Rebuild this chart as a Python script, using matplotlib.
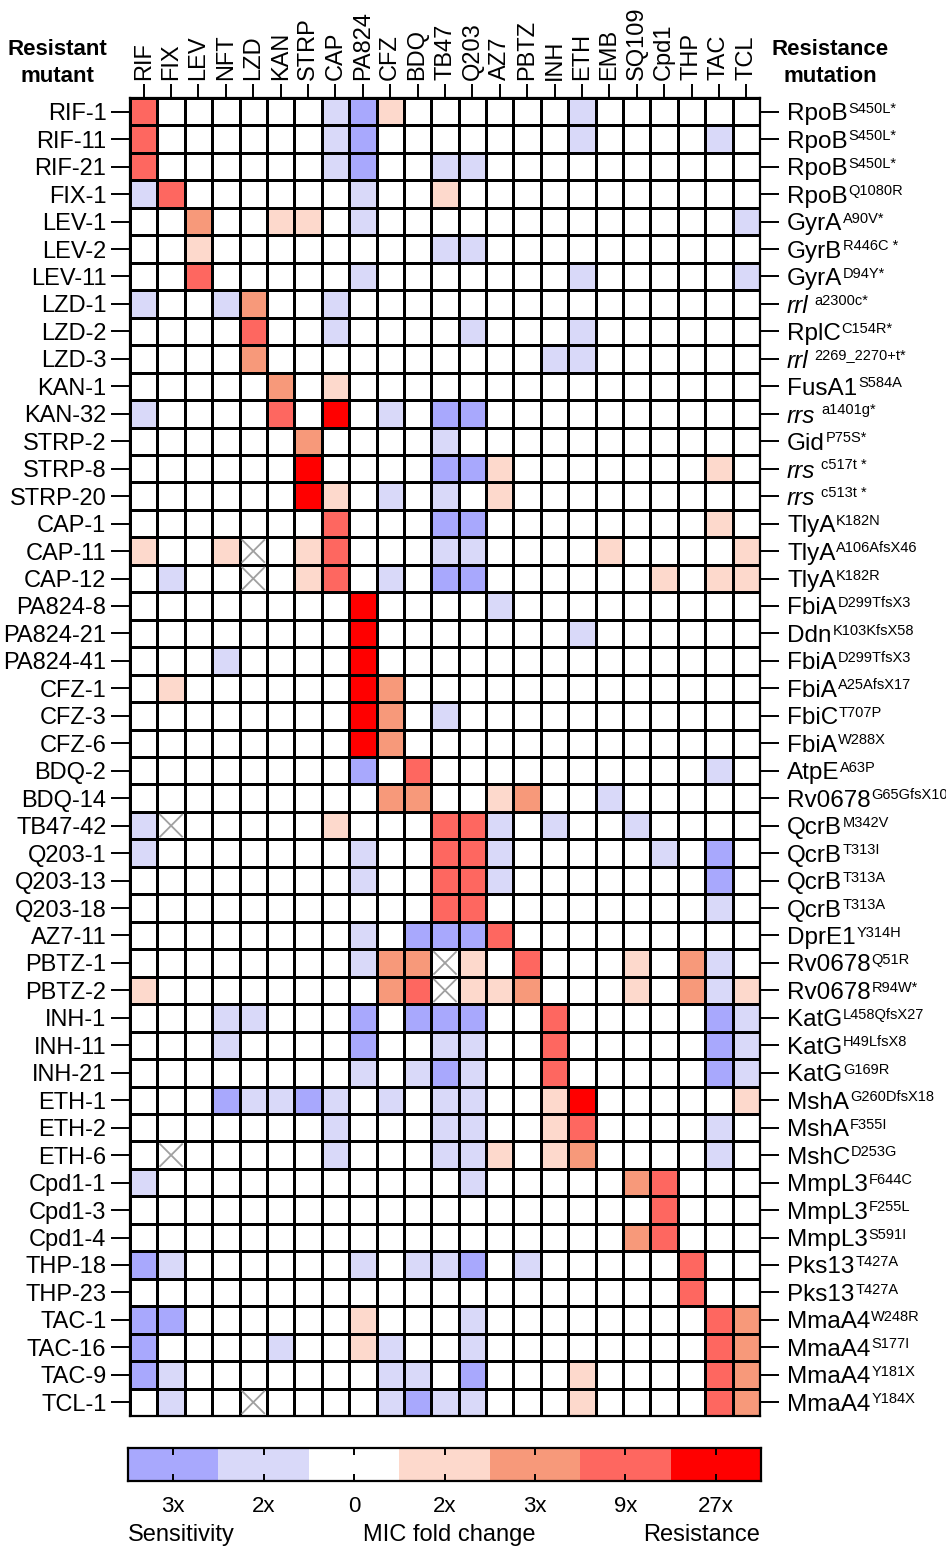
import numpy as np
import matplotlib
matplotlib.use("Agg")
import matplotlib.pyplot as plt
from matplotlib.colors import ListedColormap, BoundaryNorm

plt.rcParams["font.family"] = ["Liberation Sans", "DejaVu Sans"]

X = np.nan  # not tested

drugs = ["RIF", "FIX", "LEV", "NFT", "LZD", "KAN", "STRP", "CAP", "PA824", "CFZ", "BDQ", "TB47",
         "Q203", "AZ7", "PBTZ", "INH", "ETH", "EMB", "SQ109", "Cpd1", "THP", "TAC", "TCL"]

mutants = ["RIF-1", "RIF-11", "RIF-21", "FIX-1", "LEV-1", "LEV-2", "LEV-11", "LZD-1", "LZD-2",
           "LZD-3", "KAN-1", "KAN-32", "STRP-2", "STRP-8", "STRP-20", "CAP-1", "CAP-11", "CAP-12",
           "PA824-8", "PA824-21", "PA824-41", "CFZ-1", "CFZ-3", "CFZ-6", "BDQ-2", "BDQ-14",
           "TB47-42", "Q203-1", "Q203-13", "Q203-18", "AZ7-11", "PBTZ-1", "PBTZ-2", "INH-1",
           "INH-11", "INH-21", "ETH-1", "ETH-2", "ETH-6", "Cpd1-1", "Cpd1-3", "Cpd1-4", "THP-18",
           "THP-23", "TAC-1", "TAC-16", "TAC-9", "TCL-1"]

genes = ["RpoB", "RpoB", "RpoB", "RpoB", "GyrA", "GyrB", "GyrA", "rrl", "RplC", "rrl", "FusA1",
         "rrs", "Gid", "rrs", "rrs", "TlyA", "TlyA", "TlyA", "FbiA", "Ddn", "FbiA", "FbiA", "FbiC",
         "FbiA", "AtpE", "Rv0678", "QcrB", "QcrB", "QcrB", "QcrB", "DprE1", "Rv0678", "Rv0678",
         "KatG", "KatG", "KatG", "MshA", "MshA", "MshC", "MmpL3", "MmpL3", "MmpL3", "Pks13",
         "Pks13", "MmaA4", "MmaA4", "MmaA4", "MmaA4"]

changes = ["S450L*", "S450L*", "S450L*", "Q1080R", "A90V*", "R446C *", "D94Y*", "a2300c*",
           "C154R*", "2269_2270+t*", "S584A", "a1401g*", "P75S*", "c517t *", "c513t *",
           "K182N", "A106AfsX46", "K182R", "D299TfsX3", "K103KfsX58", "D299TfsX3", "A25AfsX17",
           "T707P", "W288X", "A63P", "G65GfsX10", "M342V", "T313I", "T313A", "T313A", "Y314H",
           "Q51R", "R94W*", "L458QfsX27", "H49LfsX8", "G169R", "G260DfsX18", "F355I", "D253G",
           "F644C", "F255L", "S591I", "T427A", "T427A", "W248R", "S177I", "Y181X", "Y184X"]

italic_genes = {"rrl", "rrs"}

# MIC fold change level: -2 = 3x sens, -1 = 2x sens, 0, 1 = 2x, 2 = 3x, 3 = 9x, 4 = 27x res
fold_change = np.array([
    [ 3, 0, 0, 0, 0, 0, 0,-1,-2, 1, 0, 0, 0, 0, 0, 0,-1, 0, 0, 0, 0, 0, 0],
    [ 3, 0, 0, 0, 0, 0, 0,-1,-2, 0, 0, 0, 0, 0, 0, 0,-1, 0, 0, 0, 0,-1, 0],
    [ 3, 0, 0, 0, 0, 0, 0,-1,-2, 0, 0,-1,-1, 0, 0, 0, 0, 0, 0, 0, 0, 0, 0],
    [-1, 3, 0, 0, 0, 0, 0, 0,-1, 0, 0, 1, 0, 0, 0, 0, 0, 0, 0, 0, 0, 0, 0],
    [ 0, 0, 2, 0, 0, 1, 1, 0,-1, 0, 0, 0, 0, 0, 0, 0, 0, 0, 0, 0, 0, 0,-1],
    [ 0, 0, 1, 0, 0, 0, 0, 0, 0, 0, 0,-1,-1, 0, 0, 0, 0, 0, 0, 0, 0, 0, 0],
    [ 0, 0, 3, 0, 0, 0, 0, 0,-1, 0, 0, 0, 0, 0, 0, 0,-1, 0, 0, 0, 0, 0,-1],
    [-1, 0, 0,-1, 2, 0, 0,-1, 0, 0, 0, 0, 0, 0, 0, 0, 0, 0, 0, 0, 0, 0, 0],
    [ 0, 0, 0, 0, 3, 0, 0,-1, 0, 0, 0, 0,-1, 0, 0, 0,-1, 0, 0, 0, 0, 0, 0],
    [ 0, 0, 0, 0, 2, 0, 0, 0, 0, 0, 0, 0, 0, 0, 0,-1,-1, 0, 0, 0, 0, 0, 0],
    [ 0, 0, 0, 0, 0, 2, 0, 1, 0, 0, 0, 0, 0, 0, 0, 0, 0, 0, 0, 0, 0, 0, 0],
    [-1, 0, 0, 0, 0, 3, 0, 4, 0,-1, 0,-2,-2, 0, 0, 0, 0, 0, 0, 0, 0, 0, 0],
    [ 0, 0, 0, 0, 0, 0, 2, 0, 0, 0, 0,-1, 0, 0, 0, 0, 0, 0, 0, 0, 0, 0, 0],
    [ 0, 0, 0, 0, 0, 0, 4, 0, 0, 0, 0,-2,-2, 1, 0, 0, 0, 0, 0, 0, 0, 1, 0],
    [ 0, 0, 0, 0, 0, 0, 4, 1, 0,-1, 0,-1, 0, 1, 0, 0, 0, 0, 0, 0, 0, 0, 0],
    [ 0, 0, 0, 0, 0, 0, 0, 3, 0, 0, 0,-2,-2, 0, 0, 0, 0, 0, 0, 0, 0, 1, 0],
    [ 1, 0, 0, 1, X, 0, 1, 3, 0, 0, 0,-1,-1, 0, 0, 0, 0, 1, 0, 0, 0, 0, 1],
    [ 0,-1, 0, 0, X, 0, 1, 3, 0,-1, 0,-2,-2, 0, 0, 0, 0, 0, 0, 1, 0, 1, 1],
    [ 0, 0, 0, 0, 0, 0, 0, 0, 4, 0, 0, 0, 0,-1, 0, 0, 0, 0, 0, 0, 0, 0, 0],
    [ 0, 0, 0, 0, 0, 0, 0, 0, 4, 0, 0, 0, 0, 0, 0, 0,-1, 0, 0, 0, 0, 0, 0],
    [ 0, 0, 0,-1, 0, 0, 0, 0, 4, 0, 0, 0, 0, 0, 0, 0, 0, 0, 0, 0, 0, 0, 0],
    [ 0, 1, 0, 0, 0, 0, 0, 0, 4, 2, 0, 0, 0, 0, 0, 0, 0, 0, 0, 0, 0, 0, 0],
    [ 0, 0, 0, 0, 0, 0, 0, 0, 4, 2, 0,-1, 0, 0, 0, 0, 0, 0, 0, 0, 0, 0, 0],
    [ 0, 0, 0, 0, 0, 0, 0, 0, 4, 2, 0, 0, 0, 0, 0, 0, 0, 0, 0, 0, 0, 0, 0],
    [ 0, 0, 0, 0, 0, 0, 0, 0,-2, 0, 3, 0, 0, 0, 0, 0, 0, 0, 0, 0, 0,-1, 0],
    [ 0, 0, 0, 0, 0, 0, 0, 0, 0, 2, 2, 0, 0, 1, 2, 0, 0,-1, 0, 0, 0, 0, 0],
    [-1, X, 0, 0, 0, 0, 0, 1, 0, 0, 0, 3, 3,-1, 0,-1, 0, 0,-1, 0, 0, 0, 0],
    [-1, 0, 0, 0, 0, 0, 0, 0,-1, 0, 0, 3, 3,-1, 0, 0, 0, 0, 0,-1, 0,-2, 0],
    [ 0, 0, 0, 0, 0, 0, 0, 0,-1, 0, 0, 3, 3,-1, 0, 0, 0, 0, 0, 0, 0,-2, 0],
    [ 0, 0, 0, 0, 0, 0, 0, 0, 0, 0, 0, 3, 3, 0, 0, 0, 0, 0, 0, 0, 0,-1, 0],
    [ 0, 0, 0, 0, 0, 0, 0, 0,-1, 0,-2,-2,-2, 3, 0, 0, 0, 0, 0, 0, 0, 0, 0],
    [ 0, 0, 0, 0, 0, 0, 0, 0,-1, 2, 2, X, 1, 0, 3, 0, 0, 0, 1, 0, 2,-1, 0],
    [ 1, 0, 0, 0, 0, 0, 0, 0, 0, 2, 3, X, 1, 1, 2, 0, 0, 0, 1, 0, 2,-1, 1],
    [ 0, 0, 0,-1,-1, 0, 0, 0,-2, 0,-2,-2,-2, 0, 0, 3, 0, 0, 0, 0, 0,-2,-1],
    [ 0, 0, 0,-1, 0, 0, 0, 0,-2, 0, 0,-1,-1, 0, 0, 3, 0, 0, 0, 0, 0,-2,-1],
    [ 0, 0, 0, 0, 0, 0, 0, 0,-1, 0,-1,-2,-1, 0, 0, 3, 0, 0, 0, 0, 0,-2,-1],
    [ 0, 0, 0,-2,-1,-1,-2,-1, 0,-1, 0,-1,-1, 0, 0, 1, 4, 0, 0, 0, 0, 0, 1],
    [ 0, 0, 0, 0, 0, 0, 0,-1, 0, 0, 0,-1,-1, 0, 0, 1, 3, 0, 0, 0, 0,-1, 0],
    [ 0, X, 0, 0, 0, 0, 0,-1, 0, 0, 0,-1,-1, 1, 0, 1, 2, 0, 0, 0, 0,-1, 0],
    [-1, 0, 0, 0, 0, 0, 0, 0, 0, 0, 0, 0,-1, 0, 0, 0, 0, 0, 2, 3, 0, 0, 0],
    [ 0, 0, 0, 0, 0, 0, 0, 0, 0, 0, 0, 0, 0, 0, 0, 0, 0, 0, 0, 3, 0, 0, 0],
    [ 0, 0, 0, 0, 0, 0, 0, 0, 0, 0, 0, 0, 0, 0, 0, 0, 0, 0, 2, 3, 0, 0, 0],
    [-2,-1, 0, 0, 0, 0, 0, 0,-1, 0,-1,-1,-2, 0,-1, 0, 0, 0, 0, 0, 3, 0, 0],
    [ 0, 0, 0, 0, 0, 0, 0, 0, 0, 0, 0, 0, 0, 0, 0, 0, 0, 0, 0, 0, 3, 0, 0],
    [-2,-2, 0, 0, 0, 0, 0, 0, 1, 0, 0, 0,-1, 0, 0, 0, 0, 0, 0, 0, 0, 3, 2],
    [-2, 0, 0, 0, 0,-1, 0, 0, 1,-1, 0, 0,-1, 0, 0, 0, 0, 0, 0, 0, 0, 3, 2],
    [-2,-1, 0, 0, 0, 0, 0, 0, 0,-1,-1, 0,-2, 0, 0, 0, 1, 0, 0, 0, 0, 3, 2],
    [ 0,-1, 0, 0, X, 0, 0, 0, 0,-1,-2,-1,-1, 0, 0, 0, 1, 0, 0, 0, 0, 3, 2],
], dtype=float)

level_values = [-2, -1, 0, 1, 2, 3, 4]
level_labels = ["3x", "2x", "0", "2x", "3x", "9x", "27x"]
level_colors = ["#a8a8fd", "#d9d9f9", "#ffffff", "#fdd9cc", "#f7997a", "#fe6760", "#ff0000"]

W, H = 946, 1549
fig = plt.figure(figsize=(W / 100, H / 100), dpi=100)

cmap = ListedColormap(level_colors)
norm = BoundaryNorm(np.arange(-2.5, 5.0, 1.0), cmap.N)

n_rows, n_cols = fold_change.shape
ax = fig.add_axes([130 / W, 1 - 1416 / H, 630 / W, 1318 / H])
ax.pcolormesh(np.nan_to_num(fold_change), cmap=cmap, norm=norm,
              edgecolors="black", linewidth=0.8)
for i, j in np.argwhere(np.isnan(fold_change)):
    ax.plot([j + 0.1, j + 0.9], [i + 0.1, i + 0.9], color="#a0a0a0", lw=1.3)
    ax.plot([j + 0.1, j + 0.9], [i + 0.9, i + 0.1], color="#a0a0a0", lw=1.3)
ax.set_xlim(0, n_cols)
ax.set_ylim(n_rows, 0)
for sp in ax.spines.values():
    sp.set_linewidth(1.6)

ax.xaxis.tick_top()
ax.set_xticks(np.arange(n_cols) + 0.5, drugs, rotation=90, fontsize=17)
ax.tick_params(axis="x", top=True, bottom=False, length=10, width=1.4, pad=3)
ax.set_yticks(np.arange(n_rows) + 0.5, mutants, fontsize=17)
ax.tick_params(axis="y", left=True, right=True, labelright=False, length=14, width=1.4, pad=3)

# right-hand labels: gene name with the mutation as a superscript
for i, (gene, change) in enumerate(zip(genes, changes)):
    italic = gene in italic_genes
    base = ax.annotate(gene, xy=(1, i + 0.5), xycoords=("axes fraction", "data"),
                       xytext=(19.5, 0), textcoords="offset points", ha="left",
                       va="center_baseline", fontsize=17.5,
                       style="italic" if italic else "normal")
    ax.annotate(change, xy=(1, 1), xycoords=base, xytext=(4 if italic else 0.5, 1),
                textcoords="offset points", ha="left", va="top", fontsize=10.5)

head = dict(fontsize=16, fontweight="bold", ha="center", va="center", linespacing=1.4,
            family=["Liberation Sans Narrow", "Liberation Sans"])
fig.text(57 / W, 1 - 63 / H, "Resistant\nmutant", **head)
fig.text(830 / W, 1 - 63 / H, "Resistance\nmutation", **head)

# legend bar
cax = fig.add_axes([128 / W, 1 - 1481 / H, 633 / W, 33 / H])
cax.pcolormesh(np.array([level_values]), cmap=cmap, norm=norm)
cax.set_xticks(np.arange(len(level_values)) + 0.5, level_labels, fontsize=16)
cax.set_yticks([])
cax.tick_params(axis="x", direction="in", top=True, bottom=True, length=5, width=1.4, pad=11)
for sp in cax.spines.values():
    sp.set_linewidth(1.6)

fig.text(128 / W, 1 - 1535 / H, "Sensitivity", fontsize=17, ha="left", va="center")
fig.text(449 / W, 1 - 1535 / H, "MIC fold change", fontsize=17, ha="center", va="center")
fig.text(760 / W, 1 - 1535 / H, "Resistance", fontsize=17, ha="right", va="center")

fig.savefig("out.png", dpi=100)
